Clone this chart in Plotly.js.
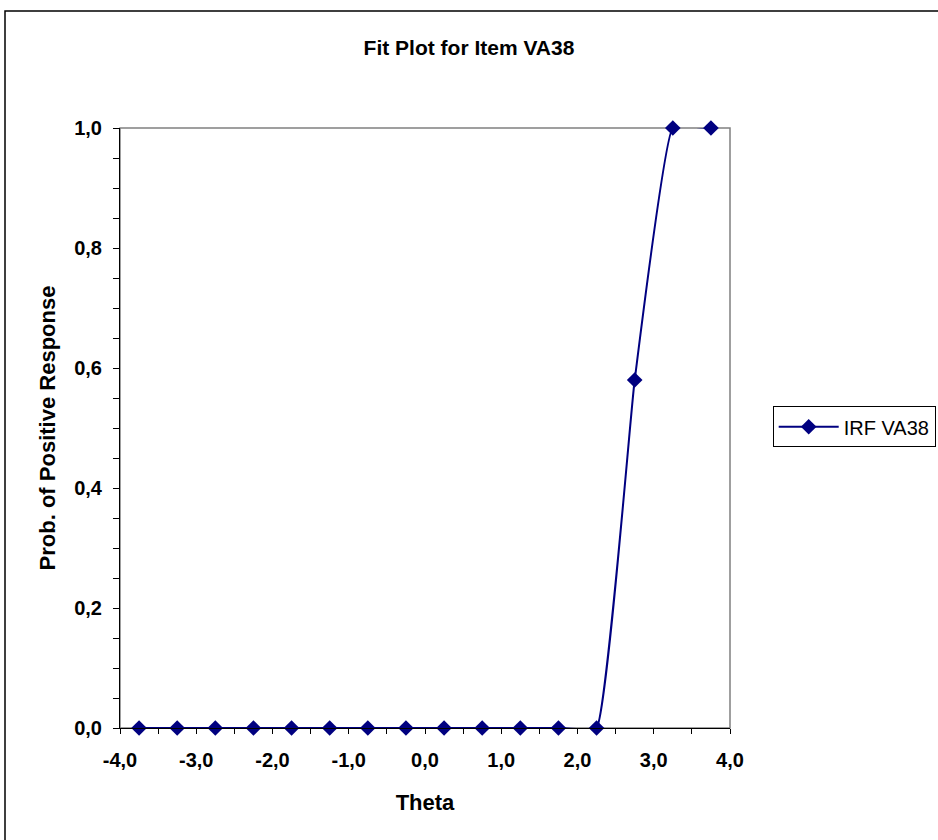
<!DOCTYPE html>
<html>
<head>
<meta charset="utf-8">
<script src="https://cdn.plot.ly/plotly-3.0.1.min.js"></script>
<style>
  html, body { margin: 0; padding: 0; background: #ffffff; }
  #chart { width: 938px; height: 840px; }
</style>
</head>
<body>
<div id="chart"></div>
<script>
// Data
const theta = [-3.75, -3.25, -2.75, -2.25, -1.75, -1.25, -0.75, -0.25, 0.25, 0.75, 1.25, 1.75, 2.25, 2.75, 3.25, 3.75];
const prob  = [0, 0, 0, 0, 0, 0, 0, 0, 0, 0, 0, 0, 0, 0.58, 1.0, 1.0];
const xTickVals   = [-4, -3, -2, -1, 0, 1, 2, 3, 4];
const xTickLabels = ['-4,0', '-3,0', '-2,0', '-1,0', '0,0', '1,0', '2,0', '3,0', '4,0'];
const yTickVals   = [0, 0.2, 0.4, 0.6, 0.8, 1.0];
const yTickLabels = ['0,0', '0,2', '0,4', '0,6', '0,8', '1,0'];
const seriesName = 'IRF VA38';
const chartTitle = 'Fit Plot for Item VA38';
const xTitle = 'Theta';
const yTitle = 'Prob. of Positive Response';

const FONT = 'Liberation Sans, Arial, sans-serif';
const NAVY = '#000080';

const trace = {
  x: theta,
  y: prob,
  name: seriesName,
  type: 'scatter',
  mode: 'lines+markers',
  cliponaxis: false,
  line: { color: NAVY, width: 2, shape: 'spline', smoothing: 0.3 },
  marker: { symbol: 'diamond', size: 12, color: NAVY, line: { width: 0 } }
};

const layout = {
  width: 938,
  height: 840,
  paper_bgcolor: '#ffffff',
  plot_bgcolor: '#ffffff',
  margin: { l: 120, r: 208, t: 128, b: 112, autoexpand: false },
  showlegend: true,
  title: {
    text: chartTitle,
    font: { family: FONT, size: 21, color: '#000000', weight: 'bold' },
    x: 0.5, xref: 'container', xanchor: 'center',
    y: 1 - 48 / 840, yref: 'container', yanchor: 'middle'
  },
  xaxis: {
    range: [-4, 4],
    tickmode: 'array',
    tickvals: xTickVals,
    ticktext: xTickLabels,
    ticks: 'outside',
    ticklen: 5,
    tickwidth: 1,
    tickcolor: '#000000',
    minor: { dtick: 0.5, tick0: -4, ticks: 'outside', ticklen: 5, tickwidth: 1, tickcolor: '#000000' },
    showline: true,
    linecolor: '#000000',
    linewidth: 1,
    showgrid: false,
    zeroline: false,
    ticklabelstandoff: 9,
    tickfont: { family: FONT, size: 20, color: '#000000', weight: 'bold' },
    title: { text: xTitle, standoff: 24, font: { family: FONT, size: 22, color: '#000000', weight: 'bold' } },
    automargin: false
  },
  yaxis: {
    range: [0, 1],
    tickmode: 'array',
    tickvals: yTickVals,
    ticktext: yTickLabels,
    ticks: 'outside',
    ticklen: 6,
    tickwidth: 1,
    tickcolor: '#000000',
    minor: { dtick: 0.05, tick0: 0, ticks: 'outside', ticklen: 6, tickwidth: 1, tickcolor: '#000000' },
    showline: true,
    linecolor: '#000000',
    linewidth: 1,
    showgrid: false,
    zeroline: false,
    ticklabelstandoff: 7,
    tickfont: { family: FONT, size: 20, color: '#000000', weight: 'bold' },
    title: { text: yTitle, standoff: 12, font: { family: FONT, size: 22, color: '#000000', weight: 'bold' } },
    automargin: false
  },
  legend: {
    x: 1.07, xanchor: 'left',
    y: 0.502, yanchor: 'middle',
    bgcolor: '#ffffff',
    bordercolor: '#000000',
    borderwidth: 1,
    itemwidth: 60,
    font: { family: FONT, size: 20, color: '#000000' }
  },
  shapes: [
    { type: 'rect', xref: 'paper', yref: 'paper', x0: 0, x1: 1, y0: 0, y1: 1,
      line: { color: '#808080', width: 1.5 }, layer: 'below' },
    { type: 'rect', xref: 'paper', yref: 'paper',
      x0: (5 - 120) / 610, x1: (950 - 120) / 610,
      y0: (728 - 850) / 600, y1: (728 - 11) / 600,
      line: { color: '#000000', width: 1.5 }, layer: 'below' }
  ]
};

Plotly.newPlot('chart', [trace], layout, { staticPlot: true, displayModeBar: false });
</script>
</body>
</html>
